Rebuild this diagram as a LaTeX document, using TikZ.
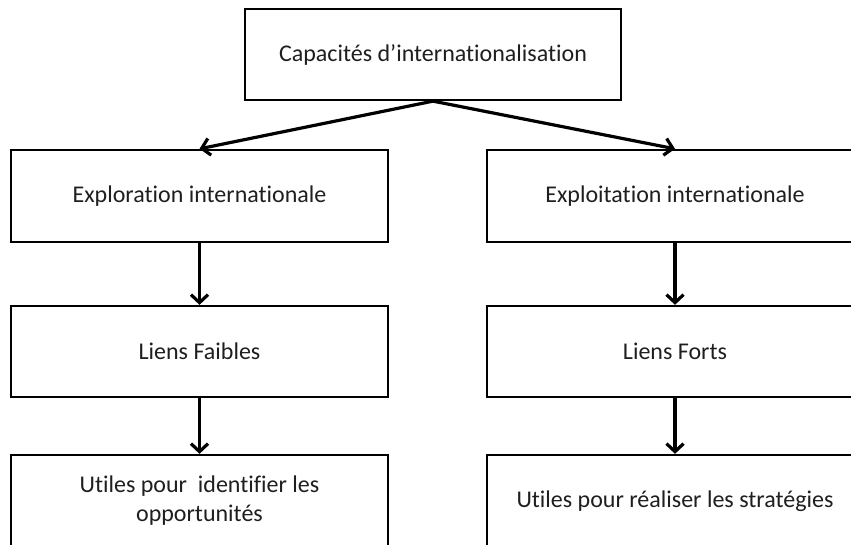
\documentclass[tikz,border=0pt]{standalone}
\usepackage{fontspec}
\setmainfont[Ligatures={NoCommon}]{Carlito}
\usetikzlibrary{arrows.meta}
\begin{document}
\begin{tikzpicture}[x=1pt,y=1pt,
  boxnode/.style={draw=black, line width=2.3pt, fill=white, minimum width=377pt,
    minimum height=92pt, align=center, inner sep=0pt,
    font=\fontsize{24}{29}\selectfont, text=black!88},
  link/.style={line width=3.2pt, line cap=round,
    -{Straight Barb[length=8pt,width=17pt,line width=3.2pt]}}]
\useasboundingbox (0,0) rectangle (851,545);
\clip (0,0) rectangle (851,545);
\fill[white] (0,0) rectangle (851,545);

% top of the hierarchy
\node[boxnode, minimum width=376pt, minimum height=91pt] (cap) at (433,490.5) {Capacités d’internationalisation};

% left branch
\node[boxnode] (explo)  at (199.5,349)   {Exploration internationale};
\node[boxnode, minimum height=91pt] (faible) at (199.5,193.5) {Liens Faibles};
\node[boxnode] (ident)  at (199.5,44)    {Utiles pour~ identifier les\\opportunités};

% right branch
\node[boxnode, minimum width=376pt] (exploit) at (675,349)   {Exploitation internationale};
\node[boxnode, minimum width=376pt, minimum height=91pt] (fort) at (675,193.5) {Liens Forts};
\node[boxnode, minimum width=376pt] (real)    at (675,44)    {Utiles pour réaliser les stratégies};

% connectors
\draw[link] (cap.south) -- (explo.north);
\draw[link] (cap.south) -- (exploit.north);
\draw[link] (explo.south) -- (faible.north);
\draw[link] (faible.south) -- (ident.north);
\draw[link] (exploit.south) -- (fort.north);
\draw[link] (fort.south) -- (real.north);
\end{tikzpicture}
\end{document}
